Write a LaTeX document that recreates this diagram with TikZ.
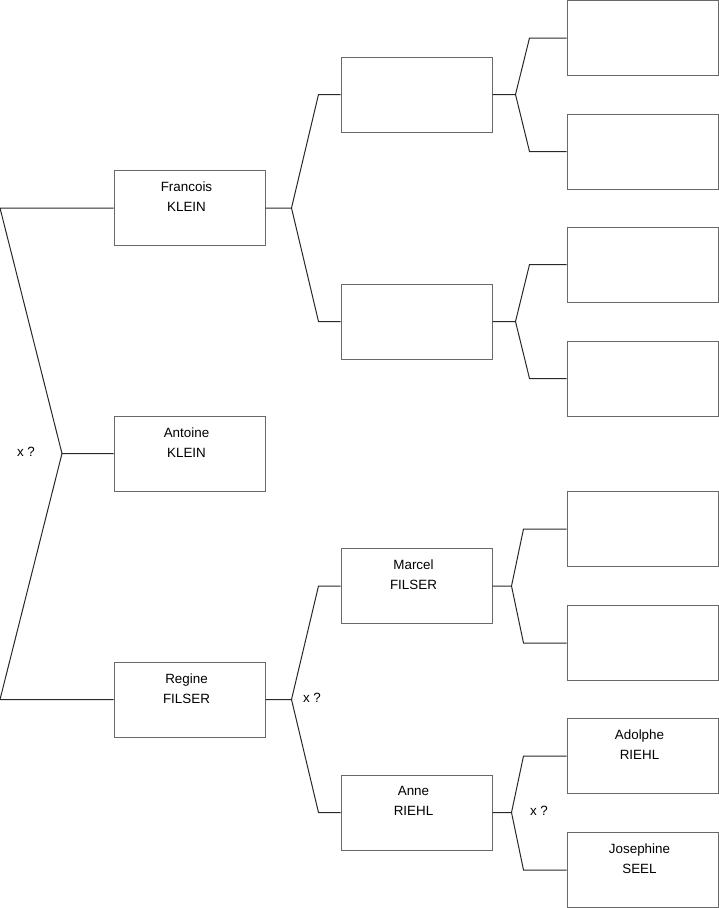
\documentclass[tikz,border=0pt]{standalone}
\usepackage{fontspec}
\setmainfont{Liberation Sans}
\usepackage{xcolor}
\usepackage{tikz}
\usetikzlibrary{calc}
\definecolor{boxline}{RGB}{105, 105, 105}
\definecolor{linkline}{RGB}{40, 40, 40}

\tikzset{
  person/.style={draw=boxline, line width=1pt, minimum width=151pt, minimum height=75pt, inner sep=0pt},
  pname/.style={font=\fontsize{13.4}{20}\selectfont, align=center, anchor=north, inner sep=0pt, yshift=-12pt, xshift=-3pt},
  link/.style={draw=linkline, line width=1pt},
  unknown/.style={font=\fontsize{13.4}{16}\selectfont, inner sep=0pt}
}

\begin{document}
\begin{tikzpicture}[x=1pt, y=-1pt]
  \useasboundingbox (0,0) rectangle (719,908);

  % First column
  \node[person, label={[pname]north:Francois\\KLEIN}] (fk) at (189.5, 208) {};
  \node[person, label={[pname]north:Antoine\\KLEIN}] (ak) at (189.5, 453.5) {};
  \node[person, label={[pname]north:Regine\\FILSER}] (rf) at (189.5, 699.5) {};

  % Second column
  \node[person] (p1) at (416.5, 94.5) {};
  \node[person] (p2) at (416.5, 321.5) {};
  \node[person, label={[pname]north:Marcel\\FILSER}] (mf) at (416.5, 586) {};
  \node[person, label={[pname]north:Anne\\RIEHL}] (ar) at (416.5, 812.5) {};

  % Third column
  \node[person] (g1) at (642.5, 38) {};
  \node[person] (g2) at (642.5, 151.5) {};
  \node[person] (g3) at (642.5, 264.5) {};
  \node[person] (g4) at (642.5, 378.5) {};
  \node[person] (g5) at (642.5, 529) {};
  \node[person] (g6) at (642.5, 643) {};
  \node[person, label={[pname]north:Adolphe\\RIEHL}] (adr) at (642.5, 756) {};
  \node[person, label={[pname]north:Josephine\\SEEL}] (js) at (642.5, 870) {};

  % Fork on the left edge
  \coordinate (V0) at (62, 453.5);
  \coordinate (T0) at (0, 208);
  \coordinate (B0) at (0, 699.5);
  \draw[link] (ak.west) -- (V0) -- (T0) -- (fk.west);
  \draw[link] (V0) -- (B0) -- (rf.west);

  % Forks to the second column
  \coordinate (V1) at ($(fk.east)+(26,0)$);
  \draw[link] (fk.east) -- (V1) -- ($(p1.west)+(-22,0)$) -- (p1.west);
  \draw[link] (V1) -- ($(p2.west)+(-22,0)$) -- (p2.west);
  \coordinate (V2) at ($(rf.east)+(26,0)$);
  \draw[link] (rf.east) -- (V2) -- ($(mf.west)+(-22,0)$) -- (mf.west);
  \draw[link] (V2) -- ($(ar.west)+(-22,0)$) -- (ar.west);

  % Forks to the third column
  \coordinate (V3) at ($(p1.east)+(23,0)$);
  \draw[link] (p1.east) -- (V3) -- ($(g1.west)+(-37,0)$) -- (g1.west);
  \draw[link] (V3) -- ($(g2.west)+(-37,0)$) -- (g2.west);
  \coordinate (V4) at ($(p2.east)+(23,0)$);
  \draw[link] (p2.east) -- (V4) -- ($(g3.west)+(-37,0)$) -- (g3.west);
  \draw[link] (V4) -- ($(g4.west)+(-37,0)$) -- (g4.west);
  \coordinate (V5) at ($(mf.east)+(19,0)$);
  \draw[link] (mf.east) -- (V5) -- ($(g5.west)+(-43,0)$) -- (g5.west);
  \draw[link] (V5) -- ($(g6.west)+(-43,0)$) -- (g6.west);
  \coordinate (V6) at ($(ar.east)+(19,0)$);
  \draw[link] (ar.east) -- (V6) -- ($(adr.west)+(-43,0)$) -- (adr.west);
  \draw[link] (V6) -- ($(js.west)+(-43,0)$) -- (js.west);

  % Labels
  \node[unknown] (x0) at (26, 452) {x ?};
  \node[unknown] (x2) at (312, 698) {x ?};
  \node[unknown] (x6) at (539, 811) {x ?};
\end{tikzpicture}
\end{document}
